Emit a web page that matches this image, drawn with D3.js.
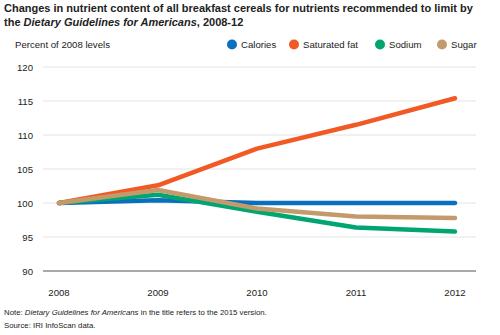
<!DOCTYPE html>
<html><head><meta charset="utf-8">
<script src="https://cdn.jsdelivr.net/npm/d3@7"></script>
<style>body{margin:0;background:#fff;font-family:"Liberation Sans",Arial,sans-serif;}</style>
</head><body><svg id="c" width="500" height="335"></svg>
<script>
const years = [2008, 2009, 2010, 2011, 2012];
const seriesNames = ["Calories", "Saturated fat", "Sodium", "Sugar"];
const calories = [100, 100.4, 100, 100, 100];
const saturatedFat = [100, 102.6, 108, 111.5, 115.4];
const sodium = [100, 101.2, 98.7, 96.4, 95.8];
const sugar = [100, 101.9, 99.2, 98.0, 97.8];
const yTicks = [90, 95, 100, 105, 110, 115, 120];
const colors = {"Calories":"#0a6fbd","Saturated fat":"#f15a24","Sodium":"#00a572","Sugar":"#c39a6b"};

const svg = d3.select("#c");
const x = d3.scalePoint().domain(years).range([59, 455]);
const y = d3.scaleLinear().domain([90, 120]).range([271, 67]);

// title
const t = svg.append("text").attr("font-size", 13).attr("font-weight", "bold").attr("fill", "#222");
const t1 = t.append("tspan").attr("x", 4).attr("y", 12).text("Changes in nutrient content of all breakfast cereals for nutrients recommended to limit by");
const w = t1.node().getComputedTextLength();
t.attr("font-size", 13 * 469 / w);
const t2 = t.append("tspan").attr("x", 4).attr("y", 26);
t2.append("tspan").text("the ");
t2.append("tspan").attr("font-style", "italic").text("Dietary Guidelines for Americans");
t2.append("tspan").text(", 2008-12");

svg.append("text").attr("x", 15).attr("y", 47.5).attr("font-size", 9.6).attr("fill", "#222").text("Percent of 2008 levels");

// legend
const legX = [232, 294, 380, 442];
seriesNames.forEach((n, i) => {
  svg.append("circle").attr("cx", legX[i]).attr("cy", 44.5).attr("r", 5).attr("fill", colors[n]);
  svg.append("text").attr("x", legX[i] + 9).attr("y", 48).attr("font-size", 9.6).attr("fill", "#222").text(n);
});

// grid
svg.append("g").selectAll("line").data(yTicks.filter(d => d !== 90)).join("line")
  .attr("x1", 43).attr("x2", 476).attr("y1", d => y(d)).attr("y2", d => y(d))
  .attr("stroke", "#e3e3e3").attr("stroke-width", 1);
svg.append("line").attr("x1", 43).attr("x2", 476).attr("y1", y(90)).attr("y2", y(90))
  .attr("stroke", "#555").attr("stroke-width", 1.2);

// y axis labels
svg.append("g").selectAll("text").data(yTicks).join("text")
  .attr("x", 33).attr("y", d => y(d) + 3.5).attr("text-anchor", "end")
  .attr("font-size", 9.6).attr("fill", "#222").text(d => d);

// x labels
svg.append("g").selectAll("text").data(years).join("text")
  .attr("x", d => x(d)).attr("y", 296).attr("text-anchor", "middle")
  .attr("font-size", 9.6).attr("fill", "#222").text(d => d);

// lines
const data = {"Calories": calories, "Saturated fat": saturatedFat, "Sodium": sodium, "Sugar": sugar};
const line = d3.line().x((d, i) => x(years[i])).y(d => y(d));
["Calories", "Sodium", "Saturated fat", "Sugar"].forEach(n => {
  svg.append("path").attr("d", line(data[n])).attr("fill", "none")
    .attr("stroke", colors[n]).attr("stroke-width", 4.5)
    .attr("stroke-linecap", "round").attr("stroke-linejoin", "round");
});

// notes
const nt = svg.append("text").attr("x", 4).attr("y", 315).attr("font-size", 7.8).attr("fill", "#222");
nt.append("tspan").text("Note: ");
nt.append("tspan").attr("font-style", "italic").text("Dietary Guidelines for Americans");
nt.append("tspan").text(" in the title refers to the 2015 version.");
svg.append("text").attr("x", 4).attr("y", 328).attr("font-size", 7.8).attr("fill", "#222").text("Source: IRI InfoScan data.");
</script></body></html>
